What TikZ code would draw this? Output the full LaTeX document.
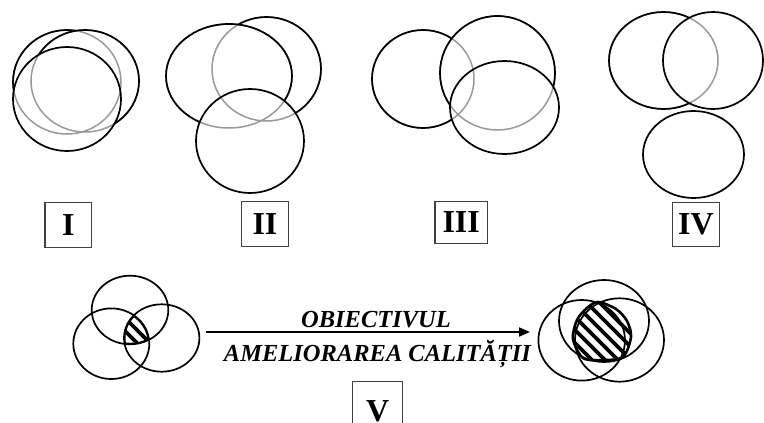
\documentclass[tikz,border=0pt]{standalone}
\usepackage{fontspec}
\setmainfont{Liberation Serif}
\usetikzlibrary{arrows.meta}
\tikzset{
  front/.style={draw=black, line width=1.7pt},
  back/.style={draw=black!40, line width=1.5pt},
  romanbox/.style={draw=black!75, line width=1.3pt, inner sep=0pt,
    font=\fontsize{32}{32}\selectfont\bfseries, minimum width=46.7pt, minimum height=45pt},
  romantxt/.style={font=\fontsize{32}{32}\selectfont\bfseries, inner sep=0pt, anchor=base},
  captxt/.style={font=\fontsize{24.5}{24.5}\selectfont\bfseries\itshape, inner sep=0pt, anchor=base},
  hatchline/.style={line width=3.8pt, black},
  rimline/.style={line width=3pt, black},
  arrowline/.style={line width=1.8pt, -{Triangle[length=11pt,width=9pt]}}
}
\newcommand\ellF[4]{\draw[front] (#1,#2) ellipse [x radius=#3pt, y radius=#4pt];}
\newcommand\ellB[4]{\draw[back] (#1,#2) ellipse [x radius=#3pt, y radius=#4pt];}
\newcommand\clipOut[4]{\clip (-20,-20) rectangle (800,460) (#1,#2) ellipse [x radius=#3pt, y radius=#4pt];}
\newcommand\clipIn[4]{\clip (#1,#2) ellipse [x radius=#3pt, y radius=#4pt];}
\newcommand\rimE[4]{\draw[rimline] (#1,#2) ellipse [x radius=#3pt, y radius=#4pt];}

\begin{document}
\begin{tikzpicture}[x=1pt,y=-1pt]
\useasboundingbox (0,0) rectangle (764,423);

% ---------- Group I ----------
\ellB{67}{82}{54}{52}
\begin{scope}[even odd rule]\clipOut{85}{81}{54}{51}\clipOut{67}{99}{54}{52}\ellF{67}{82}{54}{52}\end{scope}
\ellB{85}{81}{54}{51}
\begin{scope}[even odd rule]\clipOut{67}{99}{54}{52}\ellF{85}{81}{54}{51}\end{scope}
\ellF{67}{99}{54}{52}

% ---------- Group II ----------
\ellB{266.5}{69}{54.5}{52}
\begin{scope}[even odd rule]\clipOut{229}{76}{63}{52}\clipOut{250}{141}{54}{52}\ellF{266.5}{69}{54.5}{52}\end{scope}
\ellB{229}{76}{63}{52}
\begin{scope}[even odd rule]\clipOut{250}{141}{54}{52}\ellF{229}{76}{63}{52}\end{scope}
\ellF{250}{141}{54}{52}

% ---------- Group III ----------
\ellB{423}{79}{51}{49}
\begin{scope}[even odd rule]\clipOut{497.5}{73}{57.5}{57}\clipOut{504.5}{107.5}{54.5}{46.5}\ellF{423}{79}{51}{49}\end{scope}
\ellB{497.5}{73}{57.5}{57}
\begin{scope}[even odd rule]\clipOut{504.5}{107.5}{54.5}{46.5}\ellF{497.5}{73}{57.5}{57}\end{scope}
\ellF{504.5}{107.5}{54.5}{46.5}

% ---------- Group IV ----------
\ellB{663.5}{60.5}{54.5}{48.5}
\begin{scope}[even odd rule]\clipOut{713}{60.5}{50}{48.5}\ellF{663.5}{60.5}{54.5}{48.5}\end{scope}
\ellF{713}{60.5}{50}{48.5}
\ellF{693.5}{154.5}{50.5}{43.5}

% ---------- Labels ----------
\node[romanbox] (bI) at (68.3,224.7) {I};
\node[romanbox] (bII) at (265,223.8) {II};
\node[romanbox, minimum width=52.3pt, minimum height=41.6pt] (bIII) at (461.2,222.5) {III};
\node[romanbox, minimum height=44.4pt] (bIV) at (696,224.5) {IV};
\node[romanbox, minimum width=50pt, minimum height=56pt] (bV) at (377.7,409.7) {};
\node[romantxt] (tV) at (377.7,421) {V};

% ---------- Group V left ----------
\begin{scope}
  \clipIn{130}{310}{38.3}{34.3}\clipIn{111.3}{343.7}{38}{35.3}\clipIn{161.7}{338}{37.7}{33.7}
  \foreach \k in {-6,...,6} \draw[hatchline] (137+\k*13-50,280) -- (137+\k*13+50,380);
  \rimE{130}{310}{38.3}{34.3}\rimE{111.3}{343.7}{38}{35.3}\rimE{161.7}{338}{37.7}{33.7}
\end{scope}
\ellF{130}{310}{38.3}{34.3}
\ellF{111.3}{343.7}{38}{35.3}
\ellF{161.7}{338}{37.7}{33.7}

% ---------- Arrow and captions ----------
\coordinate (aS) at (206,332);
\coordinate (aE) at (530,332);
\draw[arrowline] (aS) -- (aE);
\node[captxt] (t1) at (376,327.5) {OBIECTIVUL};
\node[captxt] (t2) at (377.5,361) {AMELIORAREA CALITĂȚII};

% ---------- Group V right ----------
\begin{scope}
  \clip plot[smooth cycle] coordinates {(598,302) (616,309) (627,321) (631,337) (623,357) (603,360) (583,358) (573,339) (577,320) (587,308)};
  \foreach \k in {-7,...,7} \draw[hatchline] (601+\k*13-70,260) -- (601+\k*13+70,400);
\end{scope}
\draw[line width=2.6pt] plot[smooth cycle] coordinates {(598,302) (616,309) (627,321) (631,337) (623,357) (603,360) (583,358) (573,339) (577,320) (587,308)};
\ellF{604}{321}{45}{41}
\ellF{581.7}{340.3}{43.3}{40.3}
\ellF{619.5}{340}{44.5}{41.7}
\end{tikzpicture}
\end{document}
